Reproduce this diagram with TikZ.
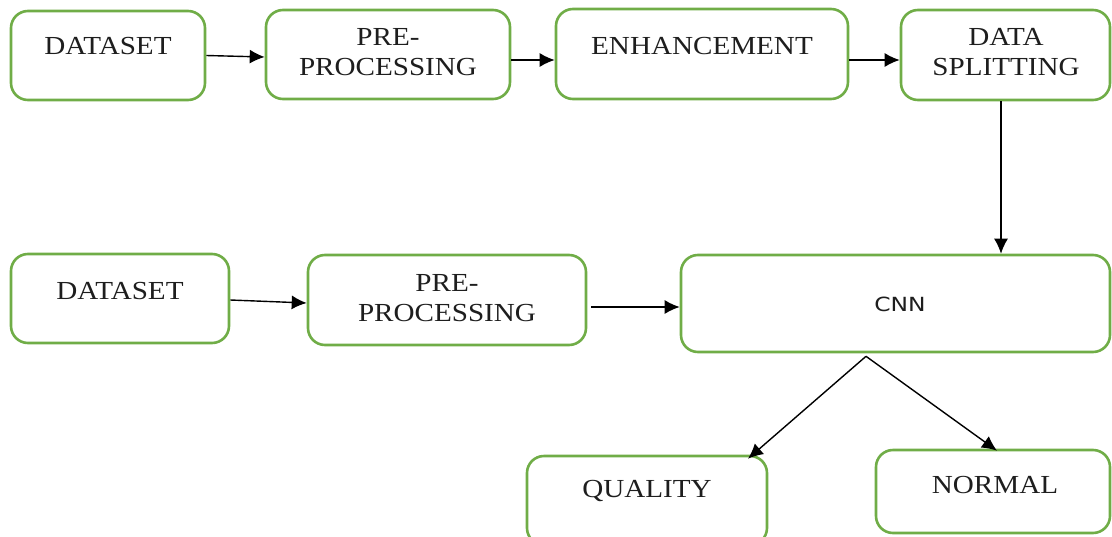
\documentclass[tikz,border=0pt]{standalone}
\usepackage{fontspec}
\setmainfont[FakeStretch=1.12]{Liberation Serif}
\newfontfamily\cnnfont[FakeStretch=1.2]{DejaVu Sans}
\usetikzlibrary{arrows.meta}
\definecolor{boxgreen}{RGB}{112,173,71}
\definecolor{txtgray}{RGB}{30,30,30}
\begin{document}
\begin{tikzpicture}[x=1pt,y=-1pt,
  box/.style={draw=boxgreen,line width=2.6pt,rounded corners=17pt,fill=white,inner sep=0pt},
  txt/.style={inner sep=0pt,align=center,text=txtgray,font=\fontsize{26}{30}\selectfont},
  arr/.style={draw=black,line width=1.4pt,-{Latex[length=15pt,width=14pt]}}]
\useasboundingbox (0,0) rectangle (1112,536);
% boxes
\node[box,minimum width=194pt,minimum height=89pt] (d1) at (108,55.5) {};
\node[box,minimum width=244pt,minimum height=89pt] (p1) at (388,54.5) {};
\node[box,minimum width=292pt,minimum height=90pt] (en) at (702,54) {};
\node[box,minimum width=209pt,minimum height=90pt] (ds) at (1005.5,55) {};
\node[box,minimum width=218pt,minimum height=89pt] (d2) at (120,298.5) {};
\node[box,minimum width=278pt,minimum height=90pt] (p2) at (447,300) {};
\node[box,minimum width=429pt,minimum height=97pt] (cnn) at (895.5,303.5) {};
\node[box,minimum width=240pt,minimum height=89pt] (q) at (647,500.5) {};
\node[box,minimum width=234pt,minimum height=83pt] (no) at (993,491.5) {};
% texts
\node[txt] (t1) at (108,46) {DATASET};
\node[txt] (t2) at (388,52) {PRE-\\PROCESSING};
\node[txt] (t3) at (702,46) {ENHANCEMENT};
\node[txt] (t4) at (1006,52) {DATA\\SPLITTING};
\node[txt] (t5) at (120,291) {DATASET};
\node[txt] (t6) at (447,298.5) {PRE-\\PROCESSING};
\node[txt,font=\cnnfont\fontsize{19.5}{24}\selectfont] (t7) at (900,304) {CNN};
\node[txt] (t8) at (647,491) {QUALITY};
\node[txt] (t9) at (995,485) {NORMAL};
% helper coordinates
\coordinate (ya) at (0,60);
\coordinate (yb) at (0,307);
% connectors
\draw[arr] (d1.east) -- ([yshift=-2.5pt]p1.west);
\draw[arr] (p1.east |- ya) -- (en.west |- ya);
\draw[arr] (en.east |- ya) -- (ds.west |- ya);
\draw[arr] ([xshift=-4.5pt]ds.south) -- ([xshift=-4.5pt]ds.south |- cnn.north);
\draw[arr] ([yshift=-1.5pt]d2.east) -- ([yshift=-3pt]p2.west);
\draw[arr] ([xshift=4pt]p2.east |- yb) -- (cnn.west |- yb);
\coordinate (cs) at ([xshift=-29.5pt,yshift=-3pt]cnn.south);
\draw[arr] (cs) -- ([xshift=101pt,yshift=-4pt]q.north);
\draw[arr] (cs) -- ([xshift=4pt,yshift=-2pt]no.north);
\end{tikzpicture}
\end{document}
